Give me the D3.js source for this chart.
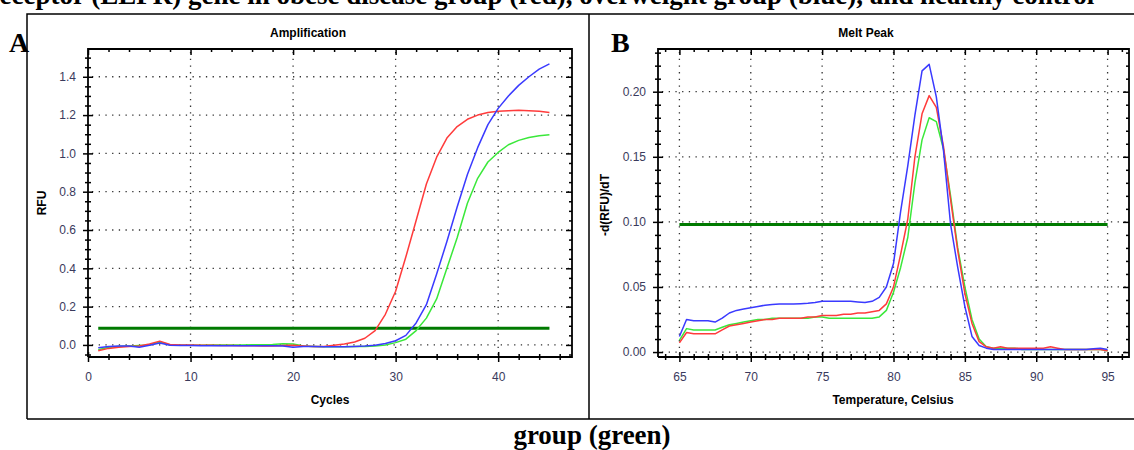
<!DOCTYPE html>
<html><head><meta charset="utf-8">
<script src="https://cdn.jsdelivr.net/npm/d3@7"></script>
<style>
html,body{margin:0;padding:0;background:#fff;}
svg{display:block;}
.tl text{font-family:"Liberation Sans",Arial,sans-serif;font-size:12px;fill:#3a3a5c;}
</style></head>
<body>
<svg id="c" width="1134" height="450"></svg>
<script>
// ---------- Data ----------
const cycles = [1,2,3,4,5,6,7,8,9,10,11,12,13,14,15,16,17,18,19,20,21,22,23,24,25,26,27,28,29,30,31,32,33,34,35,36,37,38,39,40,41,42,43,44,45];
const ampRed = [-0.030,-0.018,-0.012,-0.008,-0.006,0.005,0.020,0.002,0.000,0.000,-0.002,-0.002,-0.003,-0.003,-0.004,-0.004,-0.005,-0.005,-0.003,-0.002,-0.005,-0.008,-0.008,-0.002,0.005,0.015,0.035,0.075,0.160,0.280,0.460,0.650,0.840,0.980,1.080,1.140,1.178,1.200,1.213,1.220,1.223,1.225,1.223,1.220,1.214];
const ampBlue = [-0.015,-0.008,-0.006,-0.006,-0.012,-0.002,0.010,-0.002,-0.003,-0.003,-0.004,-0.004,-0.004,-0.004,-0.004,-0.004,-0.004,-0.004,-0.005,-0.012,-0.008,-0.008,-0.010,-0.010,-0.009,-0.008,-0.006,-0.002,0.008,0.022,0.050,0.115,0.210,0.370,0.540,0.720,0.890,1.030,1.150,1.235,1.300,1.355,1.400,1.440,1.467];
const ampGreen = [-0.025,-0.012,-0.008,-0.005,-0.003,0.000,0.015,0.000,-0.002,-0.002,-0.002,-0.001,-0.001,0.000,0.000,0.001,0.001,0.002,0.006,0.005,-0.005,-0.008,-0.010,-0.010,-0.009,-0.008,-0.008,-0.005,0.000,0.012,0.030,0.075,0.140,0.240,0.400,0.560,0.740,0.870,0.955,1.005,1.045,1.068,1.083,1.092,1.097];
const ampThreshold = 0.087;
const ampXTicks = [0,10,20,30,40];
const ampYTicks = [0.0,0.2,0.4,0.6,0.8,1.0,1.2,1.4];

const temps = [65,65.5,66,66.5,67,67.5,68,68.5,69,69.5,70,70.5,71,71.5,72,72.5,73,73.5,74,74.5,75,75.5,76,76.5,77,77.5,78,78.5,79,79.5,80,80.5,81,81.5,82,82.5,83,83.5,84,84.5,85,85.5,86,86.5,87,87.5,88,88.5,89,89.5,90,90.5,91,91.5,92,92.5,93,93.5,94,94.5,95];
const meltBlue = [0.012,0.025,0.024,0.024,0.024,0.023,0.026,0.030,0.032,0.033,0.034,0.035,0.036,0.0365,0.037,0.037,0.037,0.0372,0.0375,0.038,0.039,0.039,0.039,0.039,0.039,0.0385,0.038,0.039,0.042,0.050,0.068,0.108,0.143,0.182,0.216,0.221,0.196,0.155,0.098,0.065,0.035,0.012,0.005,0.003,0.002,0.002,0.002,0.002,0.002,0.002,0.002,0.002,0.002,0.002,0.002,0.002,0.002,0.002,0.0025,0.003,0.002];
const meltRed = [0.007,0.015,0.014,0.014,0.014,0.014,0.017,0.020,0.021,0.022,0.023,0.024,0.025,0.025,0.026,0.026,0.026,0.026,0.027,0.027,0.028,0.028,0.028,0.029,0.029,0.030,0.030,0.031,0.032,0.037,0.050,0.075,0.102,0.150,0.183,0.197,0.188,0.158,0.117,0.078,0.045,0.022,0.008,0.004,0.003,0.004,0.003,0.003,0.003,0.003,0.003,0.003,0.004,0.003,0.002,0.002,0.002,0.002,0.002,0.002,0.001];
const meltGreen = [0.009,0.018,0.017,0.017,0.017,0.017,0.019,0.021,0.022,0.023,0.024,0.025,0.025,0.026,0.026,0.026,0.026,0.026,0.026,0.027,0.027,0.026,0.026,0.026,0.026,0.026,0.026,0.026,0.027,0.032,0.046,0.065,0.088,0.130,0.163,0.180,0.177,0.156,0.120,0.080,0.050,0.025,0.010,0.004,0.003,0.003,0.003,0.003,0.002,0.002,0.002,0.002,0.002,0.002,0.002,0.002,0.002,0.002,0.002,0.002,0.001];
const meltThreshold = 0.098;
const meltXTicks = [65,70,75,80,85,90,95];
const meltYTicks = [0.00,0.05,0.10,0.15,0.20];

const colors = {red:"#ff3b3b", blue:"#3a3aff", green:"#3ae83a", thr:"#007a00"};

// ---------- Drawing ----------
const svg = d3.select("#c");
const SERIF = '"Liberation Serif","Times New Roman",serif';
const SANS = '"Liberation Sans",Arial,sans-serif';

// caption fragments
svg.append("text").attr("x",-12).attr("y",4).attr("font-family",SERIF).attr("font-weight","bold")
  .attr("font-size",27).text("receptor (LEPR) gene in obese disease group (red), overweight group (blue), and healthy control");
svg.append("text").attr("x",592).attr("y",444).attr("text-anchor","middle").attr("font-family",SERIF)
  .attr("font-weight","bold").attr("font-size",27).text("group (green)");

// outer table frame
const frame = svg.append("g").attr("stroke","#000").attr("stroke-width",1.5).attr("fill","none");
frame.append("path").attr("d","M27,419V14H1140M27,419H1140M589,14V419");

svg.append("text").attr("x",9).attr("y",52).attr("font-family",SERIF).attr("font-weight","bold").attr("font-size",28).text("A");
svg.append("text").attr("x",611).attr("y",52).attr("font-family",SERIF).attr("font-weight","bold").attr("font-size",28).text("B");

function panel(o){
  const g = svg.append("g");
  const x = d3.scaleLinear().domain(o.xDomain).range([o.left,o.right]);
  const y = d3.scaleLinear().domain(o.yDomain).range([o.bottom,o.top]);

  // grid
  const grid = g.append("g").attr("stroke","#333").attr("stroke-width",1.3).attr("stroke-dasharray","1.3,5.4");
  o.xTicks.forEach(v=>{ if(x(v)>o.left+2) grid.append("line").attr("x1",x(v)).attr("x2",x(v)).attr("y1",o.top+3).attr("y2",o.bottom); });
  o.yTicks.forEach(v=>{ grid.append("line").attr("x1",o.left+4).attr("x2",o.right).attr("y1",y(v)).attr("y2",y(v)); });

  const fmt = d3.format(o.yFormat);
  const mk = (axis, tr) => {
    const a = g.append("g").attr("class","tl").attr("transform",tr).call(axis);
    a.selectAll(".domain").remove();
    a.selectAll(".tick line").attr("stroke","#000").attr("stroke-width",1.5);
    return a;
  };
  // left axis (crossing ticks)
  mk(d3.axisLeft(y).tickValues(o.yTicks).tickSize(5).tickPadding(7).tickFormat(fmt), `translate(${o.left},0)`);
  mk(d3.axisRight(y).tickValues(o.yTicks).tickSize(5).tickFormat(""), `translate(${o.left},0)`);
  mk(d3.axisLeft(y).tickValues(o.yMinor).tickSize(3).tickFormat(""), `translate(${o.left},0)`);
  mk(d3.axisRight(y).tickValues(o.yMinor).tickSize(3).tickFormat(""), `translate(${o.left},0)`);
  // bottom axis (crossing ticks)
  mk(d3.axisBottom(x).tickValues(o.xTicks).tickSize(5).tickPadding(10).tickFormat(d3.format("d")), `translate(0,${o.bottom})`);
  mk(d3.axisTop(x).tickValues(o.xTicks).tickSize(5).tickFormat(""), `translate(0,${o.bottom})`);
  mk(d3.axisBottom(x).tickValues(o.xMinor).tickSize(3).tickFormat(""), `translate(0,${o.bottom})`);
  mk(d3.axisTop(x).tickValues(o.xMinor).tickSize(3).tickFormat(""), `translate(0,${o.bottom})`);
  // top (inward) and right (inward)
  mk(d3.axisBottom(x).tickValues(o.xTicks).tickSize(6).tickFormat(""), `translate(0,${o.top})`);
  mk(d3.axisBottom(x).tickValues(o.xMinor).tickSize(3).tickFormat(""), `translate(0,${o.top})`);
  mk(d3.axisLeft(y).tickValues(o.yTicks).tickSize(6).tickFormat(""), `translate(${o.right},0)`);
  mk(d3.axisLeft(y).tickValues(o.yMinor).tickSize(3).tickFormat(""), `translate(${o.right},0)`);

  g.append("path").attr("fill","none").attr("stroke","#000").attr("stroke-width",1.8)
    .attr("d",`M${o.left},${o.bottom}V${o.top}H${o.right}V${o.bottom}H${o.left}`);
  g.selectAll(".tl text").attr("fill","#3a3a5c");

  // threshold
  g.append("line").attr("x1",x(o.thrX[0])).attr("x2",x(o.thrX[1])).attr("y1",y(o.thr)).attr("y2",y(o.thr))
    .attr("stroke",colors.thr).attr("stroke-width",3);

  const line = d3.line().x((d,i)=>x(o.xs[i])).y(d=>y(d));
  o.series.forEach(s=>{
    g.append("path").datum(s.v).attr("fill","none").attr("stroke",s.c).attr("stroke-width",1.5)
      .attr("stroke-linejoin","round").attr("d",line);
  });

  // labels
  g.append("text").attr("x",o.titleX).attr("y",37).attr("text-anchor","middle").attr("font-family",SANS)
    .attr("font-weight","bold").attr("font-size",12).text(o.title);
  g.append("text").attr("x",o.xLabelX).attr("y",404).attr("text-anchor","middle").attr("font-family",SANS)
    .attr("font-weight","bold").attr("font-size",12).text(o.xLabel);
  g.append("text").attr("transform",`translate(${o.yLabelX},${o.yLabelY}) rotate(-90)`).attr("text-anchor","middle")
    .attr("font-family",SANS).attr("font-weight","bold").attr("font-size",12).text(o.yLabel);
}

panel({
  left:88, right:572, top:49, bottom:357,
  xDomain:[0,47.2], yDomain:[-0.063,1.545],
  xTicks:ampXTicks, yTicks:ampYTicks,
  xMinor:d3.range(2,47,2).filter(v=>v%10!==0),
  yMinor:d3.range(-0.05,1.52,0.05).filter(v=>Math.abs(Math.round(v*20))%4!==0),
  yFormat:".1f",
  xs:cycles, thr:ampThreshold, thrX:[1,45],
  series:[{v:ampGreen,c:colors.green},{v:ampRed,c:colors.red},{v:ampBlue,c:colors.blue}],
  title:"Amplification", titleX:308, xLabel:"Cycles", xLabelX:330, yLabel:"RFU", yLabelX:46, yLabelY:203
});

panel({
  left:658, right:1129, top:49, bottom:357,
  xDomain:[63.5,96.5], yDomain:[-0.0038,0.2328],
  xTicks:meltXTicks, yTicks:meltYTicks,
  xMinor:d3.range(64,97,1).filter(v=>v%5!==0),
  yMinor:d3.range(0.01,0.235,0.01).filter(v=>Math.round(v*100)%5!==0),
  yFormat:".2f",
  xs:temps, thr:meltThreshold, thrX:[65,95],
  series:[{v:meltGreen,c:colors.green},{v:meltRed,c:colors.red},{v:meltBlue,c:colors.blue}],
  title:"Melt Peak", titleX:866, xLabel:"Temperature, Celsius", xLabelX:893, yLabel:"-d(RFU)/dT", yLabelX:609, yLabelY:205
});
</script>
</body></html>
